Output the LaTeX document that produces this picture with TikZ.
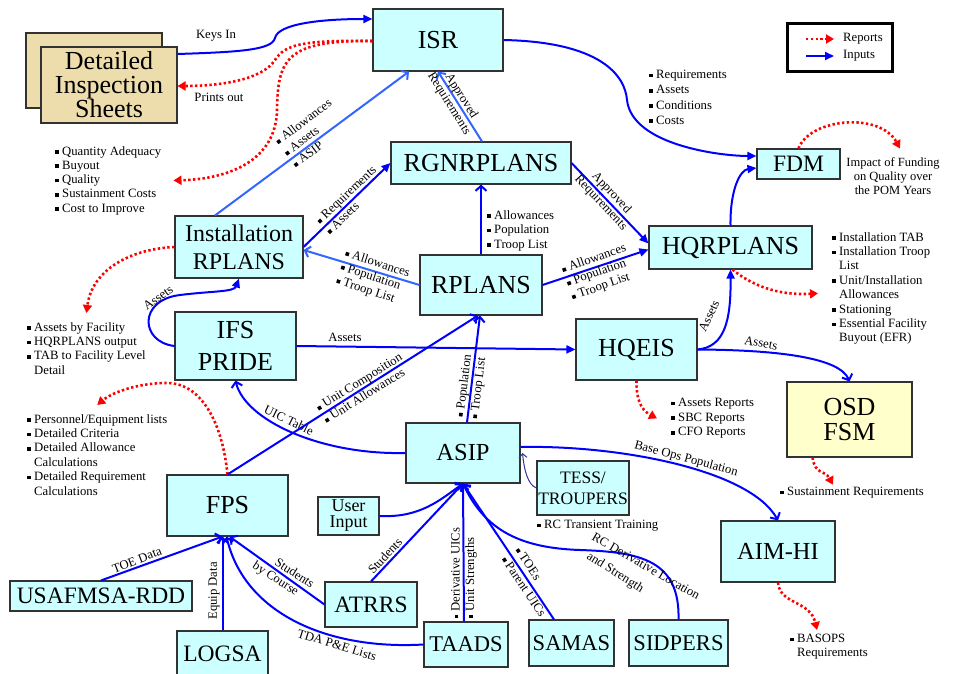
\documentclass[tikz,border=0pt]{standalone}
\usepackage{fontspec}
\setmainfont{Liberation Serif}
\usetikzlibrary{arrows.meta}
\definecolor{boxcyan}{RGB}{204,255,255}
\definecolor{boxtan}{RGB}{237,221,172}
\definecolor{boxyel}{RGB}{255,255,204}
\definecolor{inblue}{RGB}{0,0,255}
\definecolor{ltblue}{RGB}{51,102,255}
\definecolor{dkblue}{RGB}{51,51,153}
\definecolor{repred}{RGB}{255,0,0}
\definecolor{edgegray}{RGB}{50,50,50}
\newcommand{\bu}{\makebox[7pt][l]{\rule[1.2pt]{3.6pt}{3.6pt}}}
\newcommand{\hang}{\hspace*{7pt}}
\begin{document}
\begin{tikzpicture}[x=1pt,y=-1pt,
  box/.style={draw=edgegray,line width=1.1pt,fill=boxcyan,inner sep=0pt,align=center},
  lbl/.style={font=\fontsize{12.7}{14.4}\selectfont,inner sep=0pt,align=left},
  inp/.style={draw=inblue,line width=2pt},
  linp/.style={draw=ltblue,line width=2pt},
  tipV/.style={-{Straight Barb[length=5pt,width=11pt]}},
  tipF/.style={-{Triangle[length=9pt,width=8pt]}},
  rep/.style={draw=repred,line width=2.6pt,dash pattern=on 2.4pt off 2.4pt,-{Triangle[length=8pt,width=9pt]}}
]
\useasboundingbox[fill=white] (0,0) rectangle (956,674);

% ---------- boxes ----------
\node[box,minimum width=130pt,minimum height=62pt,font=\fontsize{26}{30}\selectfont] (isr) at (438,40) {ISR};
\node[draw=edgegray,line width=1.1pt,fill=boxtan,minimum width=136pt,minimum height=75pt,inner sep=0pt] (disb) at (94,70.5) {};
\node[box,fill=boxtan,minimum width=136pt,minimum height=76pt,font=\fontsize{26}{23.5}\selectfont] (dis) at (109,85) {Detailed\\Inspection\\Sheets};
\node[box,minimum width=180pt,minimum height=42pt,font=\fontsize{26}{30}\selectfont] (rgn) at (481,163) {RGNRPLANS};
\node[box,minimum width=128pt,minimum height=62pt,font=\fontsize{24}{28}\selectfont] (irp) at (239,247) {Installation\\RPLANS};
\node[box,minimum width=122pt,minimum height=60pt,font=\fontsize{26}{30}\selectfont] (rpl) at (481,285) {RPLANS};
\node[box,minimum width=163pt,minimum height=43pt,font=\fontsize{26}{30}\selectfont] (hqr) at (730.5,247.5) {HQRPLANS};
\node[box,minimum width=83pt,minimum height=30pt,font=\fontsize{23.5}{28}\selectfont] (fdm) at (798.5,164) {FDM};
\node[box,minimum width=121pt,minimum height=68pt,font=\fontsize{26}{32}\selectfont] (ifs) at (235.5,346) {IFS\\PRIDE};
\node[box,minimum width=121pt,minimum height=61pt,font=\fontsize{26}{30}\selectfont] (hqe) at (636.5,349.5) {HQEIS};
\node[box,fill=boxyel,minimum width=125pt,minimum height=75pt,font=\fontsize{26}{25}\selectfont] (osd) at (849.5,419.5) {OSD\\FSM};
\node[box,minimum width=114pt,minimum height=60pt,font=\fontsize{24.5}{28}\selectfont] (asip) at (463,453) {ASIP};
\node[box,minimum width=92pt,minimum height=54pt,font=\fontsize{17.5}{21}\selectfont] (tess) at (583,488) {TESS/\\TROUPERS};
\node[box,minimum width=114pt,minimum height=61pt,font=\fontsize{24.5}{28}\selectfont] (aim) at (778,551.5) {AIM-HI};
\node[box,minimum width=121pt,minimum height=61pt,font=\fontsize{26}{30}\selectfont] (fps) at (227.5,505.5) {FPS};
\node[box,minimum width=61pt,minimum height=38pt,font=\fontsize{18}{16}\selectfont] (usr) at (348.5,516) {User\\Input};
\node[box,minimum width=182pt,minimum height=30pt,font=\fontsize{23.5}{28}\selectfont] (usa) at (101,596) {USAFMSA-RDD};
\node[box,minimum width=92pt,minimum height=45pt,font=\fontsize{23.5}{28}\selectfont] (atr) at (371,604.5) {ATRRS};
\node[box,minimum width=91pt,minimum height=46pt,font=\fontsize{23.5}{28}\selectfont] (log) at (222.5,654) {LOGSA};
\node[box,minimum width=84pt,minimum height=45pt,font=\fontsize{22.5}{28}\selectfont] (taa) at (466,644.5) {TAADS};
\node[box,minimum width=85pt,minimum height=46pt,font=\fontsize{22.5}{28}\selectfont] (sam) at (571.5,643) {SAMAS};
\node[box,minimum width=99pt,minimum height=46pt,font=\fontsize{22.5}{28}\selectfont] (sid) at (678.5,643) {SIDPERS};

% ---------- legend ----------
\node[draw=black,line width=3pt,minimum width=105pt,minimum height=48pt,inner sep=0pt] (leg) at (839.5,48) {};
\coordinate (lra) at (806,39); \coordinate (lrb) at (834,39);
\coordinate (lba) at (806,56); \coordinate (lbb) at (834,56);
\draw[rep] (lra) -- (lrb);
\draw[inp,tipF] (lba) -- (lbb);
\node[lbl,anchor=west] (legr) at (843,39) {Reports};
\node[lbl,anchor=west] (legi) at (843,56) {Inputs};

% ---------- bullet lists ----------
\node[lbl,anchor=north west,font=\fontsize{12.7}{14.25}\selectfont] (ql) at (55,146) {\bu Quantity Adequacy\\\bu Buyout\\\bu Quality\\\bu Sustainment Costs\\\bu Cost to Improve};
\node[lbl,anchor=north west,font=\fontsize{12.7}{15.2}\selectfont] (fl) at (649,70) {\bu Requirements\\\bu Assets\\\bu Conditions\\\bu Costs};
\node[lbl,anchor=north west,font=\fontsize{12.7}{14.6}\selectfont] (rl) at (487,210) {\bu Allowances\\\bu Population\\\bu Troop List};
\node[lbl,anchor=north west] (hl) at (832,232) {\bu Installation TAB\\\bu Installation Troop\\\hang List\\\bu Unit/Installation\\\hang Allowances\\\bu Stationing\\\bu Essential Facility\\\hang Buyout (EFR)};
\node[lbl,anchor=north west] (al) at (27,322) {\bu Assets by Facility\\\bu HQRPLANS output\\\bu TAB to Facility Level\\\hang Detail};
\node[lbl,anchor=north west] (pl) at (27,414) {\bu Personnel/Equipment lists\\\bu Detailed Criteria\\\bu Detailed Allowance\\\hang Calculations\\\bu Detailed Requirement\\\hang Calculations};
\node[lbl,anchor=north west,font=\fontsize{12.7}{14.7}\selectfont] (hel) at (671,398) {\bu Assets Reports\\\bu SBC Reports\\\bu CFO Reports};
\node[lbl,anchor=north west] (sl) at (780,487) {\bu Sustainment Requirements};
\node[lbl,anchor=north west] (tl) at (537,520) {\bu RC Transient Training};
\node[lbl,anchor=north west,font=\fontsize{12.7}{14.2}\selectfont] (ba) at (790,634) {\bu BASOPS\\\hang Requirements};
\node[lbl,align=center,font=\fontsize{12.5}{13.8}\selectfont] (imp) at (893,176) {Impact of Funding\\on Quality over\\the POM Years};

% ---------- connectors ----------
\draw[inp,tipF] ([yshift=31pt]dis.east) .. controls (240,52) and (272,50) .. (275,38) .. controls (278,24) and (320,19) .. ([yshift=21pt]isr.west);
\node[lbl] (l1) at (216,36) {Keys In};
\draw[rep] ([yshift=-1pt]isr.west) .. controls (300,40) and (285,45) .. (275,60) .. controls (262,80) and (220,86) .. ([yshift=-1pt]dis.east);
\node[lbl] (l2) at (219,97) {Prints out};
\draw[rep] ([yshift=-1pt]isr.west) .. controls (285,40) and (278,60) .. (277,110) .. controls (276,160) and (230,179) .. ([xshift=12pt]ql.east);

\draw[linp,tipV] ([xshift=-24pt]irp.north) -- ([xshift=-29pt]isr.south);
\node[lbl,rotate=37] (l3) at (312,133) {\bu Allowances\\\bu Assets\\\bu ASIP};
\draw[linp,tipV] ([xshift=1pt]rgn.north) -- (isr.south);
\node[lbl,align=center,rotate=-58] (l4) at (455,100) {Approved\\Requirements};
\draw[inp,tipF] (irp.east) -- (rgn.west);
\node[lbl,rotate=43.6] (l6) at (351,200) {\bu Requirements\\\bu Assets};
\draw[linp,tipV] (rpl.west) -- ([yshift=-3pt]irp.east);
\node[lbl,rotate=-18] (l7) at (373,277.5) {\bu Allowances\\\bu Population\\\bu Troop List};
\draw[inp,tipV] (rpl.north) -- (rgn.south);
\draw[inp,tipF] (rgn.east) -- ([yshift=4pt]hqr.west);
\node[lbl,align=center,rotate=-47] (l5) at (606,198) {Approved\\Requirements};
\draw[inp,tipF] (rpl.east) -- ([yshift=-2pt]hqr.west);
\node[lbl,rotate=19.6] (l9) at (599,272.6) {\bu Allowances\\\bu Population\\\bu Troop List};

\draw[inp,tipF] (isr.east) .. controls (600,42) and (625,75) .. (627,100) .. controls (632,145) and (720,156) .. ([yshift=8pt]fdm.west);
\draw[rep] (fdm.north) .. controls (810,118) and (880,112) .. ([xshift=7pt,yshift=9pt]imp.north);
\draw[inp,tipF] (hqr.north) .. controls (730,190) and (740,170) .. ([yshift=-4pt]fdm.west);
\draw[inp,tipF] (hqe.east) .. controls (725,347) and (731,320) .. (hqr.south);
\node[lbl,rotate=65] (l13) at (709,316) {Assets};
\draw[rep] ([xshift=2pt]hqr.south) .. controls (760,292) and (790,295) .. ([xshift=-14pt,yshift=-5pt]hl.west);
\draw[inp,tipV] (hqe.east) .. controls (780,350) and (840,358) .. (osd.north);
\node[lbl,rotate=-10] (l14) at (761,343) {Assets};
\draw[inp,tipF] (ifs.east) -- (hqe.west);
\node[lbl] (l15) at (345,337) {Assets};
\draw[inp,tipF] (ifs.west) .. controls (140,342) and (138,300) .. (180,295) .. controls (212,291) and (234,292) .. (irp.south);
\node[lbl,rotate=35] (l16) at (158,298) {Assets};
\draw[rep] (irp.west) .. controls (130,249) and (92,270) .. ([yshift=9pt]al.north);
\draw[rep] (fps.north) .. controls (222,420) and (200,383) .. (167,383) .. controls (135,383) and (110,394) .. ([yshift=9pt]pl.north);
\draw[rep] (hqe.south) .. controls (636,405) and (645,412) .. ([xshift=-14pt]hel.west);

\draw[inp,tipV] (asip.west) .. controls (320,455) and (245,420) .. (ifs.south);
\node[lbl,rotate=-26] (l19) at (289,420) {UIC Table};
\draw[inp,tipV] (fps.north) -- ([xshift=-3pt]rpl.south);
\node[lbl,rotate=32] (l17) at (363,388) {\bu Unit Composition\\\bu Unit Allowances};
\draw[inp,tipV] ([xshift=4pt]asip.north) -- ([xshift=-1pt]rpl.south);
\node[lbl,rotate=83] (l18) at (471.5,386.5) {\bu Population\\\bu Troop List};

\draw[inp,tipV] ([yshift=6pt]asip.east) .. controls (620,445) and (750,470) .. (aim.north);
\node[lbl,rotate=-15] (l20) at (686,459) {Base Ops Population};
\draw[dkblue,line width=1pt,-{Straight Barb[length=4pt,width=8pt]}] (tess.west) .. controls (528,485) and (524,470) .. ([xshift=2pt]asip.east);
\draw[rep] ([xshift=-37pt]osd.south) .. controls (815,475) and (825,470) .. ([xshift=53pt,yshift=8pt]sl.west);
\draw[rep] (aim.south) .. controls (780,605) and (810,600) .. ([xshift=27pt,yshift=4pt]ba.north west);

\draw[inp,tipV] (usr.east) .. controls (420,518) and (440,500) .. (asip.south);
\draw[inp,tipV] (atr.north) -- (asip.south);
\node[lbl,rotate=47] (l25) at (385,556) {Students};
\draw[inp,tipV] ([xshift=-2pt]taa.north) -- (asip.south);
\node[lbl,rotate=90] (l26) at (464,573) {\bu Derivative UICs\\\bu Unit Strengths};
\draw[inp,tipV] ([xshift=-17.5pt]sam.north) -- (asip.south);
\node[lbl,rotate=-56,font=\fontsize{12.7}{16.5}\selectfont] (l27) at (530.7,582) {\bu TOEs\\\bu Parent UICs};
\draw[inp,tipV] (sid.north) .. controls (680,560) and (640,552) .. (580,550) .. controls (520,548) and (485,530) .. (asip.south);
\node[lbl,rotate=-30] (l28a) at (646,566) {RC Derivative Location};
\node[lbl,rotate=-32] (l28b) at (615,573) {and Strength};

\draw[inp,tipV] (usa.north) -- ([xshift=-5pt]fps.south);
\node[lbl,rotate=21] (l21) at (137,560) {TOE Data};
\draw[inp,tipV] (log.north) -- ([xshift=-5pt]fps.south);
\node[lbl,rotate=90] (l22) at (214,591) {Equip Data};
\draw[inp,tipV] (atr.west) -- ([xshift=2pt]fps.south);
\node[lbl,rotate=-33] (l23) at (283,575.5) {\hspace*{17pt}Students\\by Course};
\draw[inp,tipV] (taa.west) .. controls (330,650) and (245,615) .. ([xshift=-1pt]fps.south);
\node[lbl,rotate=-17] (l24) at (337,645) {TDA P\&E Lists};
\end{tikzpicture}
\end{document}
